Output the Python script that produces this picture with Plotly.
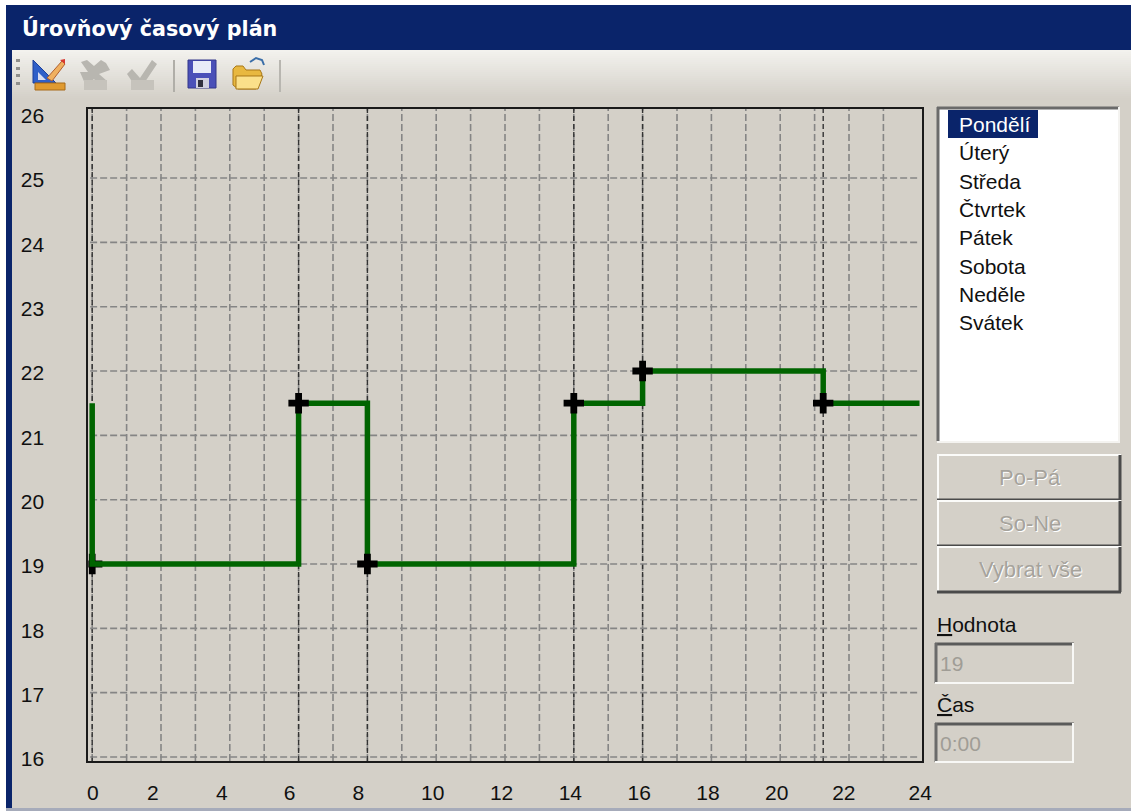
import plotly.graph_objects as go

W, H = 1131, 811

# ---- data ----
step_hours = [0, 0, 6, 6, 8, 8, 14, 14, 16, 16, 21.25, 21.25, 24.05]
step_values = [21.5, 19, 19, 21.5, 21.5, 19, 19, 21.5, 21.5, 22, 22, 21.5, 21.5]
point_hours = [6, 8, 14, 16, 21.25]
point_values = [21.5, 19, 21.5, 22, 21.5]
first_point_hour = [0]
first_point_value = [19]
grid_hours = list(range(0, 24))
grid_values = list(range(16, 26))
y_tick_labels = ["16", "17", "18", "19", "20", "21", "22", "23", "24", "25", "26"]
y_tick_places = [15.97, 16.97, 17.97, 18.97, 19.97, 20.97, 21.97, 22.97, 23.97, 24.97, 25.97]
x_tick_labels = ["0", "2", "4", "6", "8", "10", "12", "14", "16", "18", "20", "22", "24"]
x_tick_places = [0.02, 1.76, 3.77, 5.74, 7.74, 9.9, 11.9, 13.9, 15.9, 17.9, 19.9, 21.85, 24.07]
days = ["Pondělí", "Úterý", "Středa", "Čtvrtek", "Pátek", "Sobota", "Neděle", "Svátek"]
buttons = ["Po-Pá", "So-Ne", "Vybrat vše"]
title_text = "Úrovňový časový plán"

FONT = "Liberation Sans"
BG = "#d4d0c8"
NAVY = "#0a246a"
GREEN = "#006400"


def px(x):
    return x / W


def py(y):
    return 1 - y / H


shapes = []
annots = []


def rect(x0, y0, x1, y1, fill, line=None, lw=0):
    shapes.append(dict(type="rect", xref="paper", yref="paper", layer="below",
                       x0=px(x0), x1=px(x1), y0=py(y1), y1=py(y0), fillcolor=fill,
                       line=dict(color=line or fill, width=lw)))


def seg(x0, y0, x1, y1, color, lw=1):
    shapes.append(dict(type="line", xref="paper", yref="paper", layer="below",
                       x0=px(x0), x1=px(x1), y0=py(y0), y1=py(y1),
                       line=dict(color=color, width=lw)))


def poly(pts, fill, line=None, lw=0, closed=True):
    d = "M" + " L".join(f"{px(a):.5f},{py(b):.5f}" for a, b in pts) + (" Z" if closed else "")
    shapes.append(dict(type="path", xref="paper", yref="paper", layer="below", path=d,
                       fillcolor=fill if closed else "rgba(0,0,0,0)",
                       line=dict(color=line or fill, width=lw)))


def text(x, y, s, color="#000000", size=21, anchor="left", bold=False, font=FONT):
    annots.append(dict(xref="paper", yref="paper", x=px(x), y=py(y), text=f"<b>{s}</b>" if bold else s,
                       showarrow=False, xanchor=anchor, yanchor="middle", xshift=0, yshift=0,
                       font=dict(family=font, size=size, color=color)))


# window chrome
rect(0, 0, W, H, BG)
rect(0, 0, W, 5, "#ffffff")
rect(0, 0, 6, H, "#ffffff")
rect(6, 5, W, 50, NAVY)
rect(6, 5, 12, H, NAVY)
rect(12, 808, W, H, "#a6abba")
rect(6, 808, 12, H, "#a6abba")
# toolbar gradient
top, bot = (243, 242, 238), (212, 208, 200)
for i in range(50, 98, 2):
    t = (i - 50) / 48
    c = tuple(int(a + (b - a) * t) for a, b in zip(top, bot))
    rect(12, i, W, i + 2, "rgb(%d,%d,%d)" % c)
# grip
for gy in (60, 68, 75, 83):
    rect(16, gy - 1, 20, gy + 2, "#8f8f8c")
# toolbar separators
rect(173, 60, 175, 92, "#b0aea8")
rect(279, 60, 281, 92, "#b8b6b0")
# icon: set square, pencil, ruler
poly([(33, 60), (33, 83), (56, 83)], "#2f5fc8", "#1c3f9a", 1)
poly([(38, 72), (38, 80), (46, 80)], "#d8dcf0")
poly([(47, 78), (62, 61), (65, 64), (52, 81)], "#f0b060", "#b06030", 1)
poly([(60, 60), (65, 59), (65, 64)], "#d83830")
rect(35, 83, 65, 90, "#e09a30", "#a86a18", 1)
# icon: disabled X
poly([(81, 62), (87, 60), (94, 66), (101, 60), (106, 63), (110, 70), (99, 74), (107, 81), (101, 87), (94, 79), (86, 86), (80, 72), (88, 72)], "#b8b6b0")
rect(84, 80, 107, 90, "#c6c3bc")
# icon: disabled check
poly([(127, 74), (132, 69), (140, 78), (152, 60), (157, 64), (141, 88), (135, 86)], "#b8b6b0")
rect(131, 80, 154, 90, "#c6c3bc")
# icon: floppy
rect(188, 60, 216, 88, "#4a50b8", "#33368a", 1)
rect(193, 61, 211, 73, "#e8ecf8")
rect(196, 78, 209, 88, "#d0d0e0")
rect(198, 80, 203, 87, "#303040")
# icon: folder
poly([(233, 69), (233, 85), (238, 89), (256, 89), (262, 74), (260, 70), (246, 70), (243, 66), (236, 66)], "#e8b840", "#a87818", 1)
poly([(236, 76), (263, 76), (258, 89), (236, 89)], "#fbe08a", "#a87818", 1)
poly([(250, 62), (256, 58), (262, 60), (264, 65)], "#ffffff", "#3a6ea8", 2, closed=False)

# list box
rect(937, 107, 1119, 441, "#ffffff")
seg(937, 108, 1119, 108, "#6a6a6a", 3)
seg(938, 107, 938, 441, "#6a6a6a", 3)
seg(1119, 107, 1119, 442, "#f4f3f0", 2)
seg(937, 442, 1120, 442, "#f4f3f0", 2)
rect(948, 110, 1038, 138, NAVY)
row_y = 124.5
for i, d in enumerate(days):
    text(957, row_y + i * 28.3, d, color="#ffffff" if i == 0 else "#101010")

# buttons
for i, b in enumerate(buttons):
    y0 = 455 + i * 46
    y1 = y0 + 45
    rect(937, y0, 1121, y1, BG)
    seg(937, y0, 1121, y0, "#fbfbf9", 2)
    seg(938, y0, 938, y1, "#fbfbf9", 2)
    seg(1120, y0, 1120, y1, "#4a4a4a", 3)
    seg(937, y1, 1121, y1, "#4a4a4a", 3)
    text(1031, y0 + 23, b, color="#ffffff", size=22, anchor="center")
    text(1030, y0 + 22, b, color="#a6a39c", size=22, anchor="center")

# edit fields
text(935, 624, "<u>H</u>odnota", color="#101010")
text(935, 704, "<u>Č</u>as", color="#101010")
for (y0, y1, s) in ((643, 683, "19"), (723, 762, "0:00")):
    seg(935, y0 + 1, 1074, y0 + 1, "#5a5a5a", 3)
    seg(936, y0, 936, y1, "#6a6a6a", 3)
    seg(1073, y0, 1073, y1, "#f8f8f6", 2)
    seg(935, y1, 1074, y1, "#f8f8f6", 2)
    text(938, y0 + 20, s, color="#a09d96")

# title
text(20, 29, title_text, color="#ffffff", size=20.7, bold=True, font="DejaVu Sans")

# chart grid through the axes' own scales
for h in grid_hours:
    shapes.append(dict(type="line", xref="x", yref="paper", layer="below", x0=h, x1=h, y0=py(761), y1=py(109),
                       line=dict(color="#858585", width=1.6, dash="7px,3px")))
for v in grid_values:
    shapes.append(dict(type="line", xref="x", yref="y", layer="below", x0=-0.06, x1=24, y0=v, y1=v,
                       line=dict(color="#858585", width=1.6, dash="7px,3px")))
for h in sorted(set(point_hours + first_point_hour)):
    shapes.append(dict(type="line", xref="x", yref="paper", layer="below", x0=h, x1=h, y0=py(761), y1=py(109),
                       line=dict(color="#333333", width=1.4, dash="5px,3px")))

fig = go.Figure()
fig.add_trace(go.Scatter(x=first_point_hour, y=first_point_value, mode="markers", showlegend=False, hoverinfo="skip",
                         marker=dict(symbol="cross", size=17, color="#000000", line=dict(width=0))))
fig.add_trace(go.Scatter(x=step_hours, y=step_values, mode="lines", showlegend=False,
                         line=dict(color=GREEN, width=5.5, shape="linear")))
fig.add_trace(go.Scatter(x=point_hours, y=point_values, mode="markers", showlegend=False,
                         marker=dict(symbol="cross", size=17, color="#000000", line=dict(width=0))))

x0_px, dx = 92.2, 34.4
y16_px, dy = 757.0, 64.33
fl, fr, ft, fb = 88.3, 921.7, 109.0, 761.0
fig.update_layout(
    width=W, height=H, margin=dict(l=0, r=0, t=0, b=0), autosize=False,
    paper_bgcolor=BG, plot_bgcolor="rgba(0,0,0,0)", showlegend=False,
    font=dict(family=FONT, size=21, color="#101010"),
    shapes=shapes, annotations=annots,
    xaxis=dict(domain=[fl / W, fr / W], range=[(fl - x0_px) / dx, (fr - x0_px) / dx],
               tickmode="array", tickvals=x_tick_places, ticktext=x_tick_labels, tickangle=0,
               showgrid=False, zeroline=False, showline=True, mirror=True, linecolor="#1a1a1a", linewidth=2,
               ticks="", ticklabelstandoff=12, automargin=False, tickfont=dict(size=21, color="#101010")),
    yaxis=dict(domain=[1 - fb / H, 1 - ft / H], range=[16 - (fb - y16_px) / dy, 16 + (y16_px - ft) / dy],
               tickmode="array", tickvals=y_tick_places, ticktext=y_tick_labels,
               showgrid=False, zeroline=False, showline=True, mirror=True, linecolor="#1a1a1a", linewidth=2,
               ticks="", ticklabelstandoff=38, automargin=False, tickfont=dict(size=21, color="#101010")),
)
fig.write_html("out.html", config=dict(displayModeBar=False),
               post_script="document.body.style.margin='0';document.documentElement.style.overflow='hidden';")
